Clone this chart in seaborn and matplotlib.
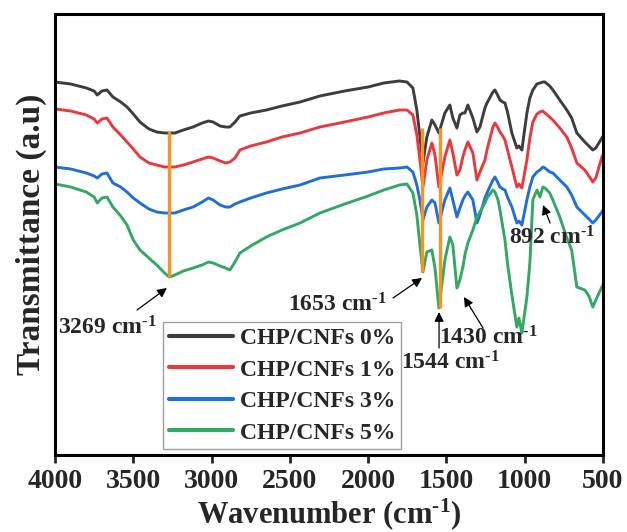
import matplotlib
matplotlib.use("Agg")
import matplotlib.pyplot as plt
import seaborn as sns
import pandas as pd

sns.set_style("white")
plt.rcParams["font.family"] = ["Liberation Serif", "DejaVu Serif"]
plt.rcParams["font.weight"] = "bold"
plt.rcParams["mathtext.fontset"] = "custom"
plt.rcParams["mathtext.rm"] = "Liberation Serif:bold"
plt.rcParams["mathtext.it"] = "Liberation Serif:bold"
plt.rcParams["mathtext.bf"] = "Liberation Serif:bold"

# wavenumber grid (cm-1)
wavenumber = [4000, 3900, 3800, 3750, 3730, 3700, 3668, 3630, 3580, 3540, 3500, 3457, 3400, 3350, 3300,
              3269, 3234, 3180, 3118, 3060, 3020, 2990, 2946, 2910, 2883, 2850, 2819, 2750, 2650, 2550,
              2435, 2308, 2150, 2000, 1900, 1800, 1752, 1714, 1689, 1669, 1650, 1625, 1593, 1573, 1548,
              1510, 1478, 1459, 1433, 1414, 1395, 1382, 1363, 1331, 1305, 1286, 1254, 1241, 1203, 1190,
              1170, 1158, 1140, 1126, 1110, 1082, 1050, 1037, 1018, 986, 967, 948, 922, 903, 884,
              871, 840, 820, 776, 731, 700, 667, 616, 590, 565, 546, 507, 500]

# transmittance (a.u.), stacked spectra
cnf_0 = [373, 371, 367, 364, 360, 364, 365, 358, 353, 348, 341, 333, 326, 323, 322,
         322, 322, 325, 328, 332, 334, 333, 329, 328, 328, 333, 339, 342, 345, 349,
         353, 359, 364, 368, 372, 374, 373, 367, 345, 318, 292, 318, 335, 330, 322,
         342, 350, 337, 327, 340, 342, 342, 350, 337, 323, 328, 347, 352, 363, 365,
         359, 355, 353, 352, 343, 322, 307, 309, 305, 342, 357, 365, 371, 372, 373,
         373, 369, 365, 355, 345, 337, 322, 313, 309, 305, 307, 317, 319]
cnf_1 = [346, 344, 340, 336, 332, 336, 337, 328, 320, 313, 306, 298, 292, 290, 288,
         288, 288, 290, 293, 296, 298, 297, 294, 292, 293, 297, 305, 309, 313, 318,
         322, 328, 333, 338, 342, 345, 345, 340, 320, 295, 268, 295, 312, 300, 268,
         298, 315, 302, 280, 285, 298, 305, 313, 302, 275, 283, 295, 305, 328, 332,
         327, 323, 319, 315, 305, 288, 268, 271, 267, 295, 317, 333, 341, 343, 344,
         342, 338, 335, 327, 318, 307, 292, 285, 279, 273, 277, 298, 300]
cnf_3 = [288, 286, 282, 279, 277, 281, 282, 272, 268, 263, 257, 252, 246, 243, 242,
         242, 242, 245, 248, 253, 257, 255, 250, 248, 248, 251, 253, 257, 262, 266,
         270, 277, 280, 283, 286, 287, 288, 283, 270, 255, 235, 248, 255, 252, 232,
         255, 267, 255, 238, 247, 255, 259, 263, 255, 232, 240, 257, 262, 275, 278,
         272, 268, 266, 265, 258, 248, 232, 234, 230, 255, 268, 278, 283, 285, 288,
         287, 283, 282, 275, 268, 260, 248, 240, 236, 232, 235, 243, 245]
cnf_5 = [271, 268, 263, 258, 252, 257, 258, 248, 239, 230, 215, 205, 197, 190, 182,
         178, 180, 184, 187, 190, 193, 192, 189, 187, 185, 193, 202, 209, 218, 225,
         232, 242, 251, 259, 265, 270, 271, 262, 240, 210, 183, 203, 205, 187, 147,
         195, 218, 210, 167, 175, 188, 200, 212, 225, 238, 243, 252, 257, 265, 263,
         255, 245, 228, 215, 192, 160, 128, 137, 122, 158, 192, 255, 265, 258, 268,
         267, 262, 255, 238, 217, 205, 168, 165, 159, 148, 155, 168, 170]

labels = ["CHP/CNFs 0%", "CHP/CNFs 1%", "CHP/CNFs 3%", "CHP/CNFs 5%"]
colors = ["#3D3D3D", "#E8393F", "#1F6FD8", "#33A862"]

# marked bands: wavenumber, top and bottom of the guide line
band_wn = [3269, 1653, 1544]
band_top = [324, 327, 327]
band_bottom = [178, 183, 147]

rows = []
for lab, vals in zip(labels, [cnf_0, cnf_1, cnf_3, cnf_5]):
    for w, v in zip(wavenumber, vals):
        rows.append({"wavenumber": w, "T": v, "sample": lab})
df = pd.DataFrame(rows)

fig = plt.figure(figsize=(6.27, 5.32), dpi=100)
ax = fig.add_axes([0.0877, 0.1447, 0.874, 0.829])

sns.lineplot(data=df, x="wavenumber", y="T", hue="sample", palette=colors,
             estimator=None, sort=True, linewidth=2.1, ax=ax)

ax.vlines(band_wn, band_bottom, band_top, color="#F7931E", linewidth=2.4, zorder=5)

sup = r"$^{\text{-1}}$"
arrow = dict(arrowstyle="-|>", color="black", lw=0.9, mutation_scale=14, shrinkA=0, shrinkB=0)
notes = [
    ("3269 cm" + sup, (3285, 167), (3476, 145), (3668, 127)),
    ("1653 cm" + sup, (1656, 177), (1841, 157), (2199, 150)),
    ("1544 cm" + sup, (1547, 143), (1547, 107), (1477, 92)),
    ("1430 cm" + sup, (1388, 158), (1266, 127), (1234, 117)),
    ("892 cm" + sup, (883, 250), (838, 232), (826, 217)),
]
for txt, tip, tail, pos in notes:
    ax.annotate("", xy=tip, xytext=tail, arrowprops=arrow, zorder=6)
    ax.text(pos[0], pos[1], txt, fontsize=17, fontweight="bold", ha="center", va="center")

ax.set_xlim(4000, 500)
ax.set_ylim(0, 441)
ax.set_xticks([4000, 3500, 3000, 2500, 2000, 1500, 1000, 500])
ax.set_yticks([])
ax.tick_params(axis="x", direction="out", length=6, width=2, labelsize=20, bottom=True, pad=4)
for s in ax.spines.values():
    s.set_linewidth(2.2)
    s.set_color("black")
ax.set_xlabel("Wavenumber (cm" + sup + ")", fontsize=22, fontweight="bold", labelpad=2)
ax.set_ylabel("Transmittance (a.u)", fontsize=24, fontweight="bold", labelpad=6)

leg = ax.legend(loc="upper left", bbox_to_anchor=(0.197, 0.302), borderaxespad=0,
                fontsize=17, frameon=True, fancybox=False, edgecolor="#888888",
                handlelength=2.7, handletextpad=0.3, labelspacing=0.42, borderpad=0.25)
leg.get_frame().set_linewidth(1.0)
for line in leg.get_lines():
    line.set_linewidth(3.0)
for t in leg.get_texts():
    t.set_fontweight("bold")

fig.savefig("out.png", dpi=100)
